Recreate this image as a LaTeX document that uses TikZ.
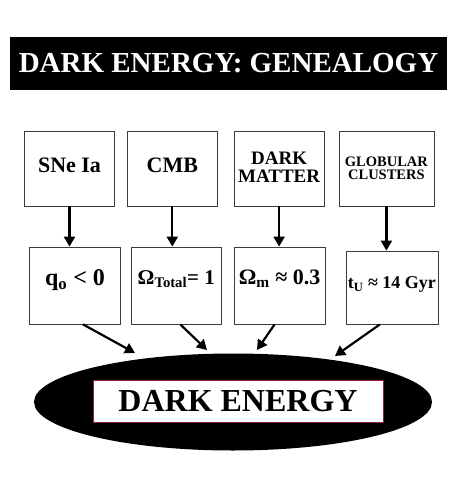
\documentclass[tikz,border=0pt]{standalone}
\usepackage{fontspec}
\setmainfont{Liberation Serif}
\usetikzlibrary{arrows.meta,positioning,shapes.geometric}
\definecolor{framegray}{HTML}{3A3A3A}
\definecolor{labelrim}{HTML}{8B2252}

\begin{document}
\begin{tikzpicture}[x=1pt,y=-1pt,font=\bfseries,node distance=12pt]
  \tikzset{srcbox/.style={draw=framegray, line width=0.8pt, minimum width=90pt, minimum height=75pt, inner sep=0pt, align=center, text depth=6pt},
    valbox/.style={draw=framegray, line width=0.8pt, minimum width=91pt, minimum height=77pt, inner sep=0pt, align=center, text depth=16pt},
    feed/.style={-{Triangle[width=11pt,length=10pt]}, line width=2.2pt}}
  \useasboundingbox (0,0) rectangle (457,485);
  \node[fill=black, text=white, minimum width=437pt, minimum height=53pt, font=\bfseries\fontsize{29}{30}\selectfont] (title) at (228.5,63.5) {DARK ENERGY: GENEALOGY};
  % sources
  \node[srcbox, font=\bfseries\fontsize{22}{24}\selectfont] (s1) at (69.5,168.5) {SNe Ia};
  \node[srcbox, right=12pt of s1, font=\bfseries\fontsize{22}{24}\selectfont] (s2) {CMB};
  \node[srcbox, right=16pt of s2, font=\bfseries\fontsize{19}{17.5}\selectfont, text depth=3pt] (s3) {DARK\\MATTER};
  \node[srcbox, right=14pt of s3, minimum width=95pt, font=\bfseries\fontsize{14.5}{13}\selectfont, text depth=1pt] (s4) {GLOBULAR\\CLUSTERS};
  % observations
  \node[valbox, font=\bfseries\fontsize{24}{26}\selectfont] (v1) at (75,285.5) {q\textsubscript{o} < 0};
  \node[valbox, right=10pt of v1, minimum width=90pt, font=\bfseries\fontsize{21}{24}\selectfont] (v2) {Ω\textsubscript{Total}= 1};
  \node[valbox, right=12pt of v2, font=\bfseries\fontsize{22}{24}\selectfont] (v3) {Ω\textsubscript{m} ≈ 0.3};
  \node[valbox, right=20pt of v3, minimum width=92pt, minimum height=73pt, yshift=-2pt, font=\bfseries\fontsize{18}{20}\selectfont, text depth=10pt] (v4) {t\textsubscript{U} ≈ 14 Gyr};
  % the result
  \node[ellipse, fill=black, minimum width=398pt, minimum height=97pt, inner sep=0pt] (de) at (233,402) {};
  \node[fill=white, draw=labelrim, line width=0.6pt, minimum width=290pt, minimum height=42pt, inner sep=0pt, font=\bfseries\fontsize{32}{33}\selectfont] (tag) at (238,401) {DARK ENERGY};
  \coordinate (e1) at (135,353);
  \coordinate (e2) at (207,350);
  \coordinate (e3) at (257,350);
  \coordinate (e4) at (335,356);
  \draw[feed] (s1.south) -- (s1.south |- v1.north);
  \draw[feed] (s2.south) -- (s2.south |- v2.north);
  \draw[feed] (s3.south) -- (s3.south |- v3.north);
  \draw[feed] (s4.south) -- (s4.south |- v4.north);
  \draw[feed] ([xshift=8pt]v1.south) -- (e1);
  \draw[feed] ([xshift=4pt]v2.south) -- (e2);
  \draw[feed] ([xshift=-5pt]v3.south) -- (e3);
  \draw[feed] ([xshift=-12pt]v4.south) -- (e4);
\end{tikzpicture}
\end{document}
